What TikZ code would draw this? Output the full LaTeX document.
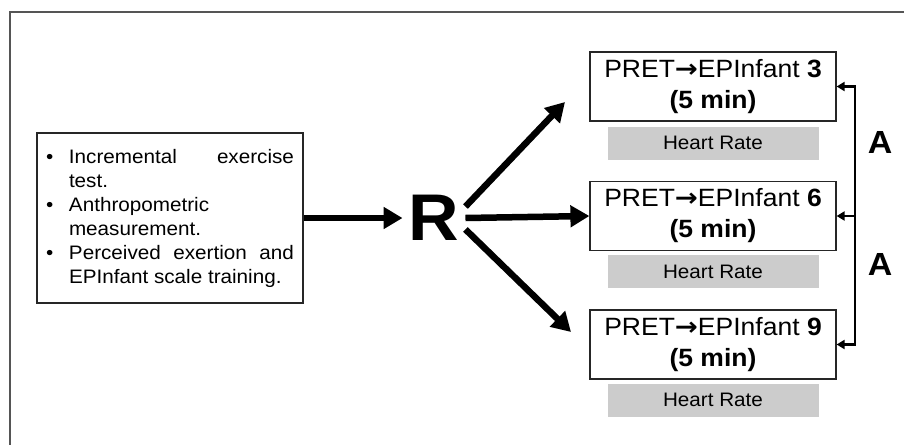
\documentclass[tikz,border=0pt]{standalone}
\usepackage{fontspec}
\setmainfont{Liberation Sans}[FakeStretch=1.06]
\newfontfamily\arrowfont{DejaVu Sans}[FakeStretch=1.1]
\usepackage{tikz}
\usetikzlibrary{arrows.meta, positioning}
\definecolor{framegray}{RGB}{85, 85, 85}
\definecolor{ratefill}{RGB}{204, 204, 204}
\newcommand{\bulletline}[1]{\noindent\hangindent=23pt\hangafter=1\makebox[23pt][l]{\textbullet}#1\par}
\newcommand{\pretarrow}{{\arrowfont\bfseries →}}
\tikzset{
  prepbox/.style={draw=black!85, line width=1.2pt, minimum width=266pt, minimum height=170pt,
    text width=248pt, inner xsep=9pt, align=justify, font=\fontsize{19.5}{24}\selectfont},
  stagebox/.style={draw=black!85, line width=1.2pt, minimum width=246pt, minimum height=69pt,
    align=center, inner sep=0pt, font=\fontsize{25}{31}\selectfont},
  ratebox/.style={fill=ratefill, minimum width=211pt, minimum height=33pt, inner sep=0pt,
    font=\fontsize{19.5}{20}\selectfont},
  bigarrow/.style={line width=6.5pt, -{Triangle[length=19pt, width=21pt]}},
  railtip/.style={line width=2.7pt, -{Triangle[length=8pt, width=9pt]}},
}
\begin{document}
\begin{tikzpicture}[x=1pt, y=-1pt]
        \useasboundingbox (0,0) rectangle (904,444);
        % outer frame, cut at right and bottom
        \draw[framegray, line width=1.8pt] (10,446) -- (10,12) -- (906,12);
        % left box with the preparation steps
        \node[prepbox] (prep) at (170,218) {%
          \bulletline{Incremental exercise\linebreak test.}
          \bulletline{Anthropometric\newline measurement.}
          \bulletline{Perceived exertion and\linebreak EPInfant scale training.}};
        % randomisation
        \node[font=\fontsize{66}{66}\selectfont\bfseries, inner sep=6pt] (rnd) at (434,218) {R};
        \draw[bigarrow] (prep.east) -- (rnd.west);
        % the three conditions
        \node[stagebox] (pret3) at (713,86.5) {PRET\pretarrow EPInfant \textbf{3}\\\textbf{(5 min)}};
        \node[stagebox] (pret6) at (713,216) {PRET\pretarrow EPInfant \textbf{6}\\\textbf{(5 min)}};
        \node[stagebox] (pret9) at (713,344.5) {PRET\pretarrow EPInfant \textbf{9}\\\textbf{(5 min)}};
        \node[ratebox, below=5pt of pret3] (hr3) {Heart Rate};
        \node[ratebox, below=4pt of pret6] (hr6) {Heart Rate};
        \node[ratebox, below=4pt of pret9] (hr9) {Heart Rate};
        % arrows out of R
        \coordinate (tipup) at (565,102);
        \coordinate (tipdown) at (571,332);
        \draw[bigarrow] (rnd.20) -- (tipup);
        \draw[bigarrow] (rnd.east) -- (pret6.west);
        \draw[bigarrow] (rnd.-20) -- (tipdown);
        % bracket on the right
        \coordinate (rail) at (855,0);
        \draw[railtip, {Triangle[length=8pt, width=9pt]}-{Triangle[length=8pt, width=9pt]}]
            (pret3.east) -- (rail |- pret3.east) -- (rail |- pret9.east) -- (pret9.east);
        \draw[railtip] (rail |- pret6.east) -- (pret6.east);
        \node[font=\fontsize{32}{32}\selectfont\bfseries] (lblA1) at (880,142) {A};
        \node[font=\fontsize{32}{32}\selectfont\bfseries] (lblA2) at (880,264) {A};
\end{tikzpicture}
\end{document}
